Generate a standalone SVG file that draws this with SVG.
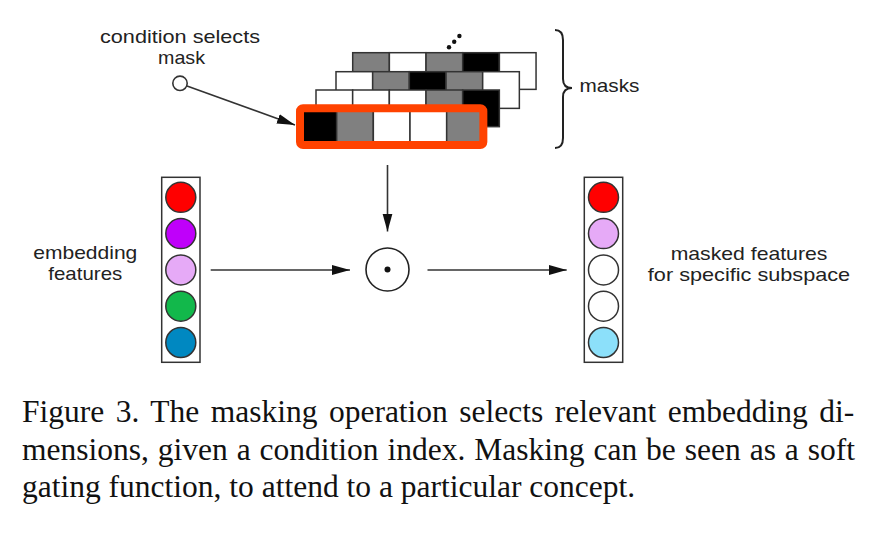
<svg xmlns="http://www.w3.org/2000/svg" width="870" height="540" viewBox="0 0 870 540">
  <style>
    .lbl { font-family: "Liberation Sans", Arial, sans-serif; font-size: 18.5px; fill: #222; text-anchor: middle; }
    .cap { font-family: "Liberation Serif", "Times New Roman", serif; font-size: 31.5px; fill: #111; }
    .cell { stroke: #333; stroke-width: 1.5; }
    .w { fill: #ffffff; }
    .g { fill: #808080; }
    .k { fill: #000000; }
    .col { fill: #ffffff; stroke: #333; stroke-width: 1.5; }
    .feat { stroke: #333; stroke-width: 1.5; }
    .conn { stroke: #333; stroke-width: 1.6; fill: none; }
  </style>
  <defs>
    <marker id="ah" markerUnits="userSpaceOnUse" markerWidth="20" markerHeight="12" refX="18" refY="5" orient="auto">
      <path d="M0,0 L18,5 L0,10 Z" fill="#111"/>
    </marker>
  </defs>
  <rect width="870" height="540" fill="#ffffff"/>

  <!-- mask stack -->
  <g id="mask-stack">
    <g id="mask4">
      <rect class="cell g" x="352.7" y="52.7" width="36.67" height="36.67"/>
      <rect class="cell w" x="389.37" y="52.7" width="36.67" height="36.67"/>
      <rect class="cell g" x="426.04" y="52.7" width="36.67" height="36.67"/>
      <rect class="cell k" x="462.71" y="52.7" width="36.67" height="36.67"/>
      <rect class="cell w" x="499.38" y="52.7" width="36.67" height="36.67"/>
    </g>
    <g id="mask3">
      <rect class="cell w" x="336" y="71.7" width="36.67" height="36.67"/>
      <rect class="cell g" x="372.67" y="71.7" width="36.67" height="36.67"/>
      <rect class="cell k" x="409.34" y="71.7" width="36.67" height="36.67"/>
      <rect class="cell g" x="446.01" y="71.7" width="36.67" height="36.67"/>
      <rect class="cell w" x="482.68" y="71.7" width="36.67" height="36.67"/>
    </g>
    <g id="mask2">
      <rect class="cell w" x="316" y="90" width="36.67" height="36.67"/>
      <rect class="cell w" x="352.67" y="90" width="36.67" height="36.67"/>
      <rect class="cell w" x="389.34" y="90" width="36.67" height="36.67"/>
      <rect class="cell g" x="426.01" y="90" width="36.67" height="36.67"/>
      <rect class="cell k" x="462.68" y="90" width="36.67" height="36.67"/>
    </g>
    <g id="mask1-selected">
      <rect class="cell k" x="300" y="108.3" width="36.67" height="36.67"/>
      <rect class="cell g" x="336.67" y="108.3" width="36.67" height="36.67"/>
      <rect class="cell w" x="373.34" y="108.3" width="36.67" height="36.67"/>
      <rect class="cell w" x="410.01" y="108.3" width="36.67" height="36.67"/>
      <rect class="cell g" x="446.68" y="108.3" width="36.67" height="36.67"/>
      <rect x="300" y="108.3" width="183.35" height="36.67" rx="3" fill="none" stroke="#ff4200" stroke-width="8"/>
    </g>
    <g id="ellipsis" fill="#111">
      <circle cx="449" cy="47.3" r="2.2"/>
      <circle cx="454.2" cy="41.7" r="2.2"/>
      <circle cx="459.4" cy="36" r="2.2"/>
    </g>
  </g>

  <g id="masks-brace">
    <path d="M555,30 Q563,30 563,40 L563,79 Q563,88 572,88 Q563,88 563,97 L563,138 Q563,148 555,148" fill="none" stroke="#222" stroke-width="2"/>
    <text class="lbl" x="609.5" y="92" textLength="60" lengthAdjust="spacingAndGlyphs">masks</text>
  </g>

  <g id="condition">
    <text class="lbl" x="180" y="42.5" textLength="160" lengthAdjust="spacingAndGlyphs">condition selects</text>
    <text class="lbl" x="181.5" y="63.5" textLength="47" lengthAdjust="spacingAndGlyphs">mask</text>
    <circle cx="180" cy="83.3" r="7.2" fill="#ffffff" stroke="#333" stroke-width="1.6"/>
  </g>

  <g id="embedding-features">
    <rect class="col" x="161.7" y="177.3" width="38.3" height="185"/>
    <circle class="feat" cx="180.8" cy="197.3" r="15" fill="#ff0000"/>
    <circle class="feat" cx="180.8" cy="233.6" r="15" fill="#bf00fa"/>
    <circle class="feat" cx="180.8" cy="269.9" r="15" fill="#e6aaf7"/>
    <circle class="feat" cx="180.8" cy="306.2" r="15" fill="#12b84b"/>
    <circle class="feat" cx="180.8" cy="342.5" r="15" fill="#0088c1"/>
    <text class="lbl" x="85.3" y="259" textLength="104" lengthAdjust="spacingAndGlyphs">embedding</text>
    <text class="lbl" x="85.3" y="280" textLength="74" lengthAdjust="spacingAndGlyphs">features</text>
  </g>

  <g id="odot">
    <circle cx="387.5" cy="269.5" r="21.5" fill="#ffffff" stroke="#222" stroke-width="1.6"/>
    <circle cx="387.5" cy="269.5" r="3" fill="#111"/>
  </g>

  <g id="masked-features">
    <rect class="col" x="584.3" y="177.3" width="38.4" height="185"/>
    <circle class="feat" cx="603.5" cy="197.3" r="15" fill="#ff0000"/>
    <circle class="feat" cx="603.5" cy="233.6" r="15" fill="#e6aaf7"/>
    <circle class="feat" cx="603.5" cy="269.9" r="15" fill="#ffffff"/>
    <circle class="feat" cx="603.5" cy="306.2" r="15" fill="#ffffff"/>
    <circle class="feat" cx="603.5" cy="342.5" r="15" fill="#8ce0fa"/>
    <text class="lbl" x="749" y="259.5" textLength="156.7" lengthAdjust="spacingAndGlyphs">masked features</text>
    <text class="lbl" x="749" y="280.5" textLength="202.3" lengthAdjust="spacingAndGlyphs">for specific subspace</text>
  </g>

  <g id="connectors">
    <line class="conn" x1="187" y1="86" x2="295" y2="125" marker-end="url(#ah)"/>
    <line class="conn" x1="387.5" y1="165" x2="387.5" y2="231.5" marker-end="url(#ah)"/>
    <line class="conn" x1="210.7" y1="270" x2="350" y2="270" marker-end="url(#ah)"/>
    <line class="conn" x1="427.5" y1="270" x2="566.7" y2="270" marker-end="url(#ah)"/>
  </g>

  <g id="caption">
    <text class="cap" x="22" y="421.5" word-spacing="3.6">Figure 3. The masking operation selects relevant embedding di-</text>
    <text class="cap" x="22" y="459.5" word-spacing="1.05">mensions, given a condition index. Masking can be seen as a soft</text>
    <text class="cap" x="22" y="497">gating function, to attend to a particular concept.</text>
  </g>
</svg>
